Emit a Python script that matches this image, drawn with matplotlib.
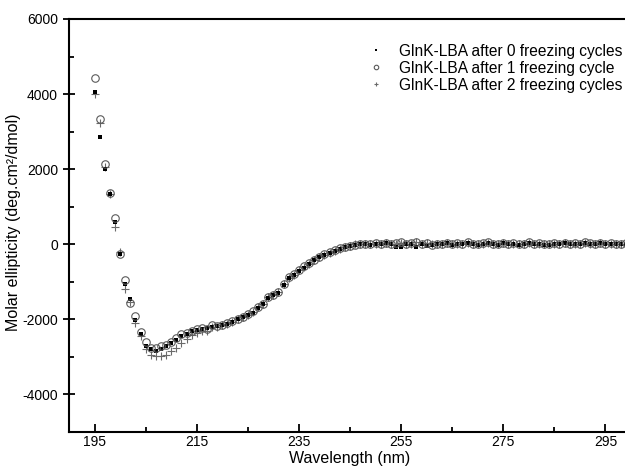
import matplotlib
matplotlib.use("Agg")
import matplotlib.pyplot as plt
from matplotlib.ticker import MultipleLocator, FixedLocator

plt.rcParams['font.family'] = ['Liberation Sans', 'DejaVu Sans']
plt.rcParams['axes.unicode_minus'] = False

wavelength = list(range(195, 301))

cycles0 = [
    4060, 2860, 2000, 1340, 590, -250, -1050, -1470, -2030, -2400,
    -2700, -2800, -2830, -2800, -2720, -2640, -2540, -2430, -2380, -2320,
    -2280, -2260, -2230, -2200, -2180, -2150, -2120, -2060, -2000, -1950,
    -1880, -1830, -1700, -1600, -1420, -1350, -1290, -1090, -900, -820,
    -700, -620, -530, -430, -350, -280, -220, -180, -120, -80,
    -50,
    -20, 0, 10, -10, 20, 10, 30, 0, -60, -70,
    0, 20, -60, 10, -40, -20, 10, 0, 30, -10,
    20, 10, 40, 0, -30, 20, 30, 10, -20, 30,
    10, 20, -10, 10, 40, 0, 20, -20, -10, 20,
    10, 30, 0, 20, 10, 40, 20, 0, 30, 10,
    20, 0, 10, 20, 0,
]

cycles1 = [
    4440, 3340, 2150, 1360, 700, -250, -950, -1560, -1900, -2330,
    -2590, -2750, -2760, -2720, -2680, -2600, -2500, -2400, -2350, -2300,
    -2260, -2240, -2250, -2160, -2170, -2140, -2100, -2050, -1980, -1930,
    -1870, -1790, -1670, -1580, -1400, -1340, -1260, -1060, -880, -800,
    -680, -590, -510, -410, -330, -270, -210, -160, -110, -60,
    -40,
    -10, 10, 20, 0, 30, 20, 40, 20, 30, 60,
    10, 30, 70, 20, 40, -10, 0, 20, 40, 10,
    30, 20, 60, 10, 20, 30, 50, 20, 10, 40,
    20, 30, 10, 20, 50, 10, 30, 20, 0, 30,
    20, 40, 10, 30, 20, 50, 30, 10, 40, 20,
    30, 10, 20, 30, 10,
]

cycles2 = [
    4000, 3240, 2050, 1350, 450, -200, -1200, -1550, -2110, -2450,
    -2780, -2940, -2970, -2970, -2940, -2850, -2750, -2620, -2520, -2420,
    -2370, -2320, -2300, -2210, -2200, -2160, -2120, -2070, -2000, -1950,
    -1880, -1800, -1680, -1590, -1410, -1350, -1270, -1070, -890, -810,
    -690, -600, -520, -420, -340, -280, -220, -170, -120, -70,
    -40,
    0, 10, 10, 10, 20, 20, 30, 20, 20, 40,
    10, 20, 50, 20, 30, 0, 10, 20, 30, 10,
    20, 20, 40, 10, 20, 20, 40, 20, 10, 30,
    20, 20, 10, 20, 40, 10, 20, 20, 10, 20,
    20, 30, 10, 20, 20, 40, 20, 10, 30, 20,
    20, 10, 20, 20, 10,
]

labels = ["GlnK-LBA after 0 freezing cycles",
          "GlnK-LBA after 1 freezing cycle",
          "GlnK-LBA after 2 freezing cycles"]

fig = plt.figure(figsize=(6.25, 4.67), dpi=100)
ax = fig.add_axes([69/625, 35/467, 562/625, 413/467])

ax.plot(wavelength, cycles2, linestyle='none', marker='+', ms=6, mew=0.8,
        color='#6a6a6a', label=labels[2], zorder=2)
ax.plot(wavelength, cycles0, linestyle='none', marker='s', ms=2.4, mew=0,
        color='black', label=labels[0], zorder=3)
ax.plot(wavelength, cycles1, linestyle='none', marker='o', ms=5.4, mew=0.8,
        mfc='none', mec='#5a5a5a', label=labels[1], zorder=4)

ax.set_xlim(190, 300)
ax.set_ylim(-5000, 6000)
ax.set_xticks([195, 215, 235, 255, 275, 295])
ax.xaxis.set_minor_locator(FixedLocator([205, 225, 245, 265, 285]))
ax.set_yticks([-4000, -2000, 0, 2000, 4000, 6000])
ax.yaxis.set_minor_locator(MultipleLocator(1000))

for s in ['left', 'bottom', 'top', 'right']:
    ax.spines[s].set_linewidth(1.5)
ax.tick_params(which='major', direction='in', length=6, width=1.3, labelsize=10)
ax.tick_params(which='minor', direction='in', length=3.5, width=1.3)
ax.tick_params(axis='y', which='major', direction='inout', length=9)
ax.tick_params(axis='x', which='major', pad=2)
ax.tick_params(top=False, right=False, which='both')

ax.set_xlabel("Wavelength (nm)", fontsize=11.5)
ax.xaxis.set_label_coords(0.5, -(459 - 432) / 413)
ax.xaxis.label.set_va('center')
ax.set_ylabel("Molar ellipticity (deg.cm²/dmol)", fontsize=11.5)
ax.yaxis.set_label_coords((14 - 69) / 562, (432 - 222) / 413)
ax.yaxis.label.set_va('center')

h, l = ax.get_legend_handles_labels()
order = [1, 2, 0]
leg = ax.legend([h[i] for i in order], [l[i] for i in order],
                loc='upper left', bbox_to_anchor=(360/625, 1 - 36/467),
                bbox_transform=fig.transFigure, frameon=False, borderpad=0,
                handlelength=1.0, handletextpad=1.0, labelspacing=0.12,
                markerscale=0.6, fontsize=11.2)

fig.savefig("out.png", dpi=100)
